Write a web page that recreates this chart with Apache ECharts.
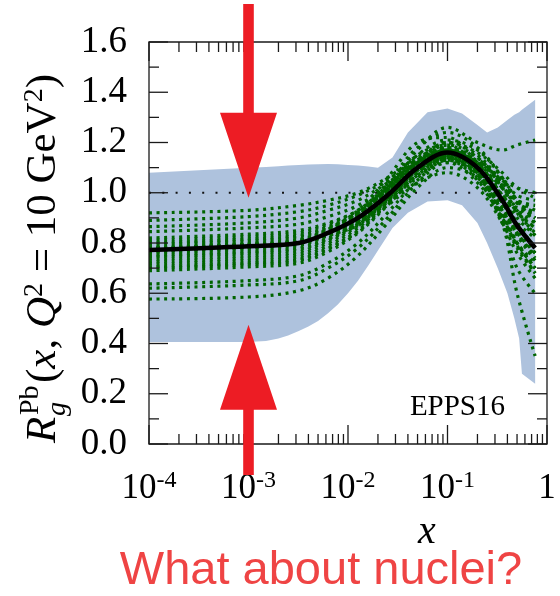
<!DOCTYPE html>
<html>
<head>
<meta charset="utf-8">
<script src="https://cdn.jsdelivr.net/npm/echarts@6/dist/echarts.min.js"></script>
<style>
  html, body { margin: 0; padding: 0; background: #fff; }
  #chart { width: 560px; height: 596px; }
</style>
</head>
<body>
<div id="chart"></div>
<script>
// x sampling grid shared by the central fit and the error sets
const xGrid = [0.0001, 0.001, 0.0032, 0.0063, 0.0126, 0.025, 0.05, 0.1, 0.2, 0.355, 0.5, 0.76];

// central EPPS16 R_g^Pb (black)
const central = [0.772, 0.787, 0.80, 0.84, 0.90, 0.99, 1.10, 1.16, 1.10, 0.97, 0.87, 0.78];

// error sets (green dotted)
const errorSets = [
  [0.920, 0.930, 0.950, 0.970, 1.000, 1.060, 1.140, 1.180, 1.120, 1.040, 0.970, 0.950],
  [0.890, 0.905, 0.925, 0.950, 0.990, 1.050, 1.130, 1.170, 1.110, 0.990, 0.940, 0.900],
  [0.865, 0.880, 0.900, 0.930, 0.970, 1.040, 1.120, 1.160, 1.100, 0.920, 0.800, 0.700],
  [0.845, 0.860, 0.875, 0.905, 0.950, 1.030, 1.120, 1.170, 1.110, 0.990, 0.920, 0.860],
  [0.820, 0.835, 0.850, 0.880, 0.930, 1.020, 1.120, 1.170, 1.100, 0.910, 0.800, 0.720],
  [0.810, 0.825, 0.840, 0.875, 0.930, 1.030, 1.150, 1.190, 1.100, 0.950, 0.840, 0.740],
  [0.800, 0.815, 0.830, 0.865, 0.920, 1.010, 1.110, 1.170, 1.120, 1.050, 0.990, 0.970],
  [0.795, 0.810, 0.825, 0.860, 0.920, 1.020, 1.130, 1.160, 1.070, 0.930, 0.830, 0.730],
  [0.785, 0.800, 0.815, 0.855, 0.910, 1.000, 1.100, 1.150, 1.090, 0.960, 0.860, 0.760],
  [0.780, 0.795, 0.810, 0.855, 0.930, 1.060, 1.200, 1.220, 1.120, 1.020, 0.960, 0.920],
  [0.772, 0.787, 0.800, 0.835, 0.890, 0.970, 1.070, 1.140, 1.130, 1.030, 0.930, 0.830],
  [0.760, 0.775, 0.790, 0.830, 0.890, 0.980, 1.090, 1.150, 1.090, 0.900, 0.780, 0.680],
  [0.750, 0.765, 0.780, 0.820, 0.885, 0.990, 1.120, 1.180, 1.120, 0.980, 0.880, 0.780],
  [0.745, 0.760, 0.775, 0.815, 0.880, 0.980, 1.100, 1.160, 1.100, 0.990, 0.930, 0.880],
  [0.735, 0.750, 0.765, 0.810, 0.875, 0.975, 1.100, 1.170, 1.140, 1.020, 0.920, 0.840],
  [0.725, 0.740, 0.755, 0.800, 0.870, 0.970, 1.090, 1.150, 1.090, 0.960, 0.880, 0.820],
  [0.715, 0.730, 0.745, 0.790, 0.860, 0.965, 1.090, 1.130, 1.050, 0.900, 0.800, 0.700],
  [0.705, 0.720, 0.735, 0.780, 0.850, 0.960, 1.080, 1.140, 1.080, 1.050, 1.020, 1.000],
  [0.700, 0.715, 0.730, 0.775, 0.845, 0.955, 1.080, 1.150, 1.110, 0.990, 0.900, 0.830],
  [0.690, 0.705, 0.720, 0.765, 0.840, 0.950, 1.070, 1.140, 1.080, 0.940, 0.840, 0.750],
  [0.637, 0.650, 0.670, 0.720, 0.800, 0.920, 1.050, 1.130, 1.090, 1.020, 0.970, 0.930],
  [0.620, 0.633, 0.650, 0.700, 0.780, 0.900, 1.040, 1.120, 1.080, 0.920, 0.800, 0.700],
  [0.577, 0.585, 0.610, 0.660, 0.750, 0.880, 1.020, 1.100, 1.060, 0.930, 0.840, 0.760],
  [0.780, 0.795, 0.810, 0.850, 0.920, 1.030, 1.170, 1.260, 1.200, 1.170, 1.190, 1.210],
  [0.775, 0.790, 0.805, 0.850, 0.920, 1.040, 1.180, 1.240, 1.180, 1.060, 0.960, 0.900],
  [0.775, 0.790, 0.805, 0.845, 0.910, 1.020, 1.150, 1.210, 1.170, 1.060, 0.970, 0.880],
  [0.770, 0.785, 0.800, 0.840, 0.900, 1.000, 1.120, 1.200, 1.160, 1.080, 1.020, 0.980],
  [0.765, 0.780, 0.795, 0.830, 0.880, 0.960, 1.060, 1.130, 1.120, 1.050, 0.970, 0.900],
  [0.770, 0.785, 0.800, 0.840, 0.900, 0.990, 1.100, 1.160, 1.080, 0.880, 0.600, 0.350],
  [0.775, 0.790, 0.805, 0.845, 0.900, 0.990, 1.090, 1.140, 1.060, 0.880, 0.700, 0.600],
  [0.770, 0.785, 0.800, 0.830, 0.870, 0.950, 1.040, 1.080, 1.020, 0.880, 0.760, 0.660],
  [0.775, 0.790, 0.800, 0.840, 0.910, 1.010, 1.120, 1.190, 1.140, 1.020, 0.930, 0.860],
  [0.770, 0.785, 0.800, 0.840, 0.890, 0.970, 1.070, 1.120, 1.040, 0.900, 0.790, 0.680],
  [0.780, 0.795, 0.810, 0.850, 0.910, 1.010, 1.130, 1.200, 1.150, 1.040, 0.960, 0.920]
];

// uncertainty band (light blue)
const bandX  = [0.0001, 0.001, 0.0015, 0.002, 0.0025, 0.0032, 0.004, 0.005, 0.0063, 0.0079, 0.01, 0.0126, 0.016, 0.02, 0.028, 0.04, 0.063, 0.1, 0.14, 0.2, 0.25, 0.32, 0.4, 0.47, 0.525, 0.56, 0.76];
const bandHi = [1.080, 1.100, 1.102, 1.105, 1.108, 1.110, 1.112, 1.113, 1.114, 1.113, 1.110, 1.108, 1.104, 1.100, 1.140, 1.240, 1.320, 1.335, 1.315, 1.270, 1.240, 1.260, 1.290, 1.310, 1.320, 1.330, 1.370];
const bandLo = [0.406, 0.406, 0.410, 0.420, 0.432, 0.450, 0.468, 0.490, 0.520, 0.555, 0.600, 0.650, 0.710, 0.770, 0.860, 0.920, 0.965, 0.970, 0.950, 0.880, 0.800, 0.700, 0.600, 0.500, 0.420, 0.280, 0.240];

const refLine = [[0.0001, 1.0], [1, 1.0]];

// axis ticks: y every 0.2 (minor 0.1), x decades with 2..9 minor ticks
const yMajor = [0, 0.2, 0.4, 0.6, 0.8, 1.0, 1.2, 1.4, 1.6];
const yMinor = [0.1, 0.3, 0.5, 0.7, 0.9, 1.1, 1.3, 1.5];
const xMajor = [0.0001, 0.001, 0.01, 0.1, 1];
const minorX = xMajor.slice(0, 4).flatMap(d => [2, 3, 4, 5, 6, 7, 8, 9].map(k => k * d));

// arrows point at x = 1e-3
const arrowX = 0.001;
const arrowDownTip = 0.98;
const arrowUpTip = 0.475;

const SERIF = '"Liberation Serif", "DejaVu Serif", serif';
const INK = '#1a1a1a';
const GREEN = '#006400';
const RED = '#ed1c24';

const chart = echarts.init(document.getElementById('chart'), null, { renderer: 'canvas' });

const greenSeries = errorSets.map((set, k) => ({
  name: 'set' + k,
  type: 'line',
  data: xGrid.map((x, i) => [x, set[i]]),
  showSymbol: false,
  smooth: 0.35,
  silent: true,
  z: 3,
  lineStyle: { color: GREEN, width: 3.2, type: [3, 4.6], cap: 'butt' }
}));

// frame and inward ticks, drawn through the axes' own scales
function frameItem(params, api) {
  const cs = params.coordSys;
  const L = cs.x, R = cs.x + cs.width, T = cs.y, B = cs.y + cs.height;
  const st = { stroke: INK, lineWidth: 1.3, fill: null };
  const kids = [{ type: 'rect', shape: { x: L, y: T, width: R - L, height: B - T }, style: st }];
  const addX = (v, len) => {
    const px = api.coord([v, 1])[0];
    kids.push({ type: 'line', shape: { x1: px, y1: B, x2: px, y2: B - len }, style: st });
    kids.push({ type: 'line', shape: { x1: px, y1: T, x2: px, y2: T + len }, style: st });
  };
  const addY = (v, len) => {
    const py = api.coord([0.01, v])[1];
    kids.push({ type: 'line', shape: { x1: L, y1: py, x2: L + len, y2: py }, style: st });
    kids.push({ type: 'line', shape: { x1: R, y1: py, x2: R - len, y2: py }, style: st });
  };
  xMajor.forEach(v => addX(v, 19));
  minorX.forEach(v => addX(v, 10));
  yMajor.forEach(v => addY(v, 19));
  yMinor.forEach(v => addY(v, 10));
  return { type: 'group', children: kids };
}

const option = {
  animation: false,
  grid: { left: 149, right: 13, top: 42, bottom: 152 },
  xAxis: {
    type: 'log', logBase: 10, min: 0.0001, max: 1,
    axisLine: { show: false }, axisTick: { show: false }, splitLine: { show: false },
    axisLabel: {
      margin: 25, showMinLabel: true, showMaxLabel: true,
      formatter: v => {
        const e = Math.round(Math.log10(v));
        return e === 0 ? '{b|1}' : '{b|10}{s|' + e + '}';
      },
      rich: {
        b: { fontSize: 35, fontFamily: SERIF, color: '#000', lineHeight: 40 },
        s: { fontSize: 24, fontFamily: SERIF, color: '#000', verticalAlign: 'top', lineHeight: 24 }
      }
    }
  },
  yAxis: {
    type: 'value', min: 0, max: 1.6, interval: 0.2,
    axisLine: { show: false }, axisTick: { show: false }, splitLine: { show: false },
    axisLabel: {
      margin: 22, fontSize: 37, fontFamily: SERIF, color: '#000',
      formatter: v => v.toFixed(1)
    }
  },
  series: [
    {
      name: 'band', type: 'custom', z: 1, silent: true, clip: true,
      data: [[0.01, 1]],
      renderItem: (params, api) => {
        const up = bandX.map((x, i) => api.coord([x, bandHi[i]]));
        const lo = bandX.map((x, i) => api.coord([x, bandLo[i]])).reverse();
        return { type: 'polygon', shape: { points: up.concat(lo) }, style: { fill: '#aec2dd' } };
      }
    },
    {
      name: 'ref', type: 'line', z: 2, silent: true, showSymbol: false,
      data: refLine,
      lineStyle: { color: '#111', width: 1.8, type: [2, 11.3], cap: 'butt' }
    },
    ...greenSeries,
    {
      name: 'central', type: 'line', z: 4, silent: true, showSymbol: false, smooth: 0.35,
      data: xGrid.map((x, i) => [x, central[i]]),
      lineStyle: { color: '#000', width: 4.6 }
    },
    {
      name: 'frame', type: 'custom', z: 11, silent: true,
      data: [[0.01, 1]],
      renderItem: frameItem
    }
  ]
};

chart.setOption(option);

// annotations: arrows, labels, titles
const ax = chart.convertToPixel({ xAxisIndex: 0 }, arrowX);
const yDown = chart.convertToPixel({ yAxisIndex: 0 }, arrowDownTip);
const yUp = chart.convertToPixel({ yAxisIndex: 0 }, arrowUpTip);
const headH = 85, headW = 28.5, shaftW = 5.3;

const italic = { fontFamily: SERIF, fontStyle: 'italic', fill: '#000' };
const roman = { fontFamily: SERIF, fill: '#000' };

chart.setOption({
  graphic: [
    {
      type: 'polygon', z: 100, silent: true,
      shape: { points: [
        [ax - shaftW, 4], [ax + shaftW, 4], [ax + shaftW, yDown - headH], [ax + headW, yDown - headH],
        [ax, yDown], [ax - headW, yDown - headH], [ax - shaftW, yDown - headH]
      ] },
      style: { fill: RED }
    },
    {
      type: 'polygon', z: 100, silent: true,
      shape: { points: [
        [ax - shaftW, 475], [ax + shaftW, 475], [ax + shaftW, yUp + headH], [ax + headW, yUp + headH],
        [ax, yUp], [ax - headW, yUp + headH], [ax - shaftW, yUp + headH]
      ] },
      style: { fill: RED }
    },
    {
      type: 'text', z: 50, silent: true, x: 505, y: 407,
      style: Object.assign({ text: 'EPPS16', fontSize: 29, align: 'right', verticalAlign: 'middle' }, roman)
    },
    {
      type: 'text', z: 50, silent: true, x: 427, y: 532,
      style: Object.assign({ text: 'x', fontSize: 40, align: 'center', verticalAlign: 'middle' }, italic)
    },
    {
      type: 'text', z: 50, silent: true, x: 321, y: 571,
      style: { text: 'What about nuclei?', fontFamily: '"Liberation Sans", Arial, sans-serif', fontSize: 47,
               fill: '#ef4444', align: 'center', verticalAlign: 'middle' }
    },
    {
      type: 'group', x: 44, y: 253, rotation: Math.PI / 2, silent: true,
      children: [
        { type: 'text', x: -190, y: 0, style: Object.assign({ text: 'R', fontSize: 43, verticalAlign: 'middle' }, italic) },
        { type: 'text', x: -162, y: -13, style: Object.assign({ text: 'Pb', fontSize: 28, verticalAlign: 'middle' }, roman) },
        { type: 'text', x: -163, y: 14, style: Object.assign({ text: 'g', fontSize: 28, verticalAlign: 'middle' }, italic) },
        {
          type: 'text', x: -130, y: 0,
          style: {
            text: '{r|(}{i|x}{r|, }{i|Q}{s|2}{r| = 10 GeV}{s|2}{r|)}',
            verticalAlign: 'middle', fill: '#000',
            rich: {
              r: { fontFamily: SERIF, fontSize: 43, lineHeight: 46 },
              i: { fontFamily: SERIF, fontSize: 43, fontStyle: 'italic', lineHeight: 46 },
              s: { fontFamily: SERIF, fontSize: 28, verticalAlign: 'top', lineHeight: 28 }
            }
          }
        }
      ]
    }
  ]
});
</script>
</body>
</html>
